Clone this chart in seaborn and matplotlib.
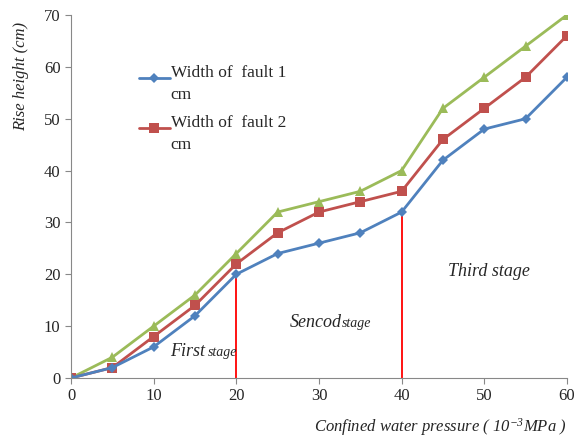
import matplotlib
matplotlib.use("Agg")
import matplotlib.pyplot as plt
from matplotlib.legend_handler import HandlerLine2D
import seaborn as sns
import pandas as pd

pressure = [0, 5, 10, 15, 20, 25, 30, 35, 40, 45, 50, 55, 60]
fault_1cm = [0, 2, 6, 12, 20, 24, 26, 28, 32, 42, 48, 50, 58]
fault_2cm = [0, 2, 8, 14, 22, 28, 32, 34, 36, 46, 52, 58, 66]
fault_3cm = [0, 4, 10, 16, 24, 32, 34, 36, 40, 52, 58, 64, 70]
stage_bounds = [20, 40]
xticks = [0, 10, 20, 30, 40, 50, 60]
yticks = [0, 10, 20, 30, 40, 50, 60, 70]

sns.set_style("white")
plt.rcParams['font.family'] = ['Liberation Serif', 'Noto Sans CJK SC']
plt.rcParams['mathtext.fontset'] = 'custom'
plt.rcParams['mathtext.rm'] = 'Liberation Serif:italic'
plt.rcParams['mathtext.it'] = 'Liberation Serif:italic'

fig = plt.figure(figsize=(5.85, 4.41), dpi=100)
ax = fig.add_axes([0.1214, 0.1429, 0.8476, 0.823])

df = pd.DataFrame({'x': pressure, 'b': fault_1cm, 'r': fault_2cm, 'g': fault_3cm})
sns.lineplot(data=df, x='x', y='g', ax=ax, color='#9BBB59', marker='^', markersize=7,
             markeredgewidth=0, linewidth=2, label='_nolegend_')
sns.lineplot(data=df, x='x', y='r', ax=ax, color='#C0504D', marker='s', markersize=7,
             markeredgewidth=0, linewidth=2, label='Width of  fault 2\ncm')
sns.lineplot(data=df, x='x', y='b', ax=ax, color='#4F81BD', marker='D', markersize=5.5,
             markeredgewidth=0, linewidth=2, label='Width of  fault 1\ncm')

for xb in stage_bounds:
    yv = fault_1cm[pressure.index(xb)]
    ax.plot([xb, xb], [0, yv], color='red', linewidth=1.3, zorder=1)

ax.set_xlim(0, 60)
ax.set_ylim(0, 70)
ax.set_xticks(xticks)
ax.set_yticks(yticks)
ax.tick_params(axis='both', labelsize=12, direction='out', length=4, width=0.8,
               color='#888888', bottom=True, left=True)
for s in ['top', 'right']:
    ax.spines[s].set_visible(False)
for s in ['left', 'bottom']:
    ax.spines[s].set_color('#888888')
    ax.spines[s].set_linewidth(0.8)

ax.set_xlabel('Confined water pressure ( $10^{-3}$MPa )', fontsize=12, style='italic', loc='right')
ax.xaxis.set_label_coords(1.0, -0.105)
ax.set_ylabel('Rise height (cm)', fontsize=12, style='italic')
ax.yaxis.set_label_coords(-0.085, 0.83)

ax.text(12.0, 4.2, 'First', fontsize=13, style='italic')
ax.text(16.6, 4.2, 'stage', fontsize=10, style='italic')
ax.text(26.5, 9.8, 'Sencod', fontsize=13, style='italic')
ax.text(32.8, 9.8, 'stage', fontsize=10, style='italic')
ax.text(45.6, 19.6, 'Third stage', fontsize=13, style='italic')


class TopHandler(HandlerLine2D):
    def create_artists(self, legend, orig_handle, xdescent, ydescent, width, height,
                       fontsize, trans):
        return super().create_artists(legend, orig_handle, xdescent,
                                      ydescent - 0.72 * fontsize, width, height,
                                      fontsize, trans)


handles, labels = ax.get_legend_handles_labels()
order = [labels.index('Width of  fault 1\ncm'), labels.index('Width of  fault 2\ncm')]
hs = [handles[i] for i in order]
leg = ax.legend(hs, [labels[i] for i in order],
                loc='upper left', bbox_to_anchor=(0.105, 0.905), frameon=False,
                fontsize=12.5, handlelength=1.8, handletextpad=0.05, labelspacing=0.73,
                handler_map={h: TopHandler() for h in hs})
for t in leg.get_texts():
    t.set_linespacing(1.45)

fig.savefig('out.png', dpi=100)
